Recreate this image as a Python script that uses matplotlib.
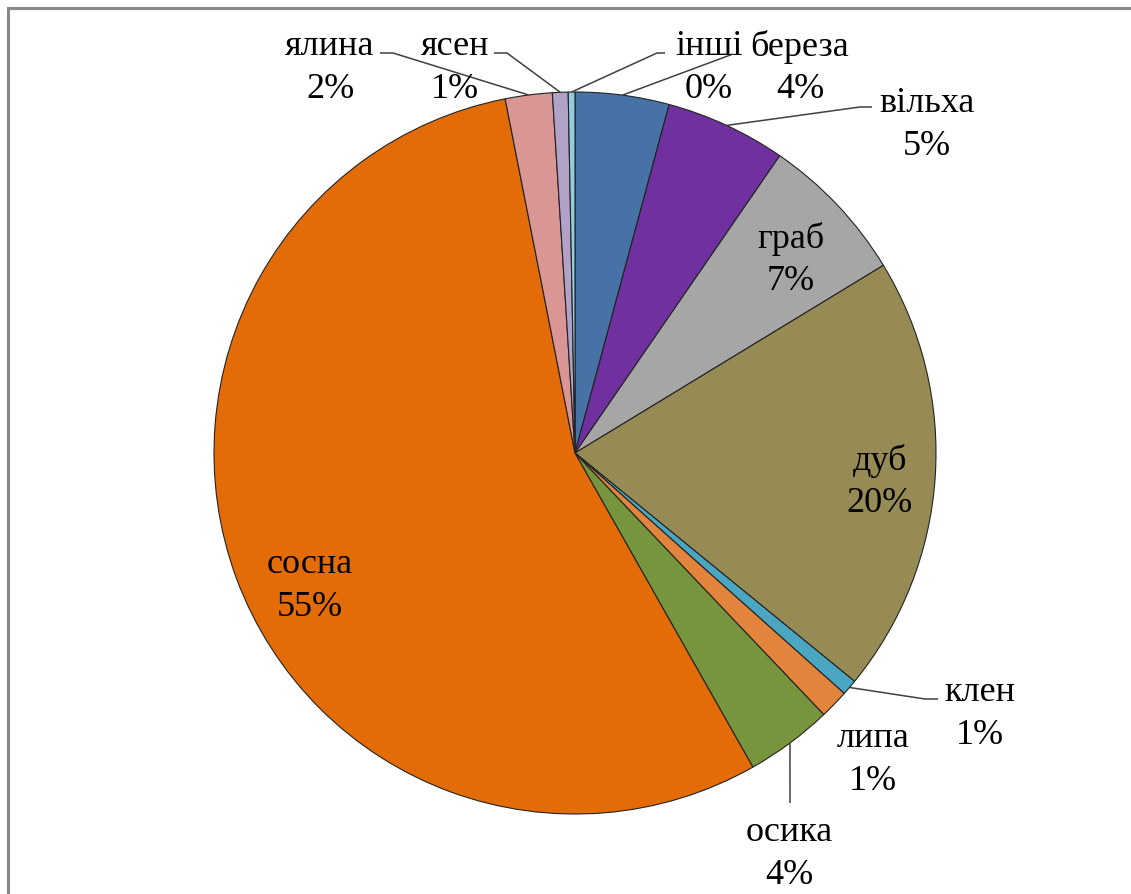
import numpy as np
import matplotlib.pyplot as plt
from matplotlib.lines import Line2D


# -----------------------------
# Data
# -----------------------------

species = ["береза", "вільха", "граб", "дуб", "клен", "липа",
           "осика", "сосна", "ялина", "ясен", "інші"]

shares = [4.2, 5.4, 6.7, 19.6, 0.7, 1.3, 3.9, 55.1, 2.1, 0.7, 0.3]

colors = ["#4672a6", "#7030a0", "#a6a6a6", "#968b54", "#4ba6c2", "#e2843c",
          "#76953d", "#e36c09", "#d99694", "#b3a2c7", "#93cddd"]


# -----------------------------
# Layout (pixel space of the picture)
# -----------------------------

W, H = 1131, 894
CENTER = (575, 453)
RADIUS = 361

# label centre for each species
label_pos = {
    "береза": (800, 68), "вільха": (927, 125), "граб": (791, 260),
    "дуб": (880, 482), "клен": (980, 714), "липа": (873, 760),
    "осика": (789, 854), "сосна": (310, 586), "ялина": (330, 68),
    "ясен": (455, 68), "інші": (709, 68),
}

# leader line points on the label side
leaders = {
    "ялина": [(380, 53), (393, 53)],
    "ясен": [(494, 53), (507, 53)],
    "інші": [(665, 53), (657, 53)],
    "береза": [(733, 54)],
    "вільха": [(872, 107), (860, 107)],
    "клен": [(938, 699), (925, 699)],
    "осика": [(790, 803)],
}


def px(x, y):
    return x, H - y


# -----------------------------
# Plot
# -----------------------------

fig = plt.figure(figsize=(W / 100, H / 100), dpi=100)
ax = fig.add_axes([0, 0, 1, 1])

ax.pie(
    shares,
    colors=colors,
    startangle=90,
    counterclock=False,
    center=px(*CENTER),
    radius=RADIUS,
    wedgeprops=dict(edgecolor="#222222", linewidth=0.8),
    frame=True,
)
ax.set_xlim(0, W)
ax.set_ylim(0, H)
ax.set_aspect("equal")
ax.axis("off")

cum = np.cumsum([0] + shares)
total = cum[-1]

for i, name in enumerate(species):
    pct = round(shares[i])
    x, y = label_pos[name]
    ax.text(*px(x, y), f"{name}\n{pct}%", ha="center", va="center",
            fontsize=26, family="Liberation Serif", linespacing=1.4)

    if name in leaders:
        mid = (cum[i] + cum[i + 1]) / 2 / total * 2 * np.pi
        ex = CENTER[0] + RADIUS * np.sin(mid)
        ey = CENTER[1] - RADIUS * np.cos(mid)
        pts = [px(*p) for p in leaders[name]] + [px(ex, ey)]
        ax.plot([p[0] for p in pts], [p[1] for p in pts],
                color="#404040", lw=1.1, solid_capstyle="butt")

# gray frame on the top and left edges
fig.add_artist(Line2D([8 / W, 8 / W], [0, 1 - 8 / H], color="#888888", lw=2.2))
fig.add_artist(Line2D([8 / W, 1], [1 - 8 / H, 1 - 8 / H], color="#888888", lw=2.2))


# -----------------------------
# Save
# -----------------------------

fig.savefig("out.png", dpi=100)
plt.close(fig)
